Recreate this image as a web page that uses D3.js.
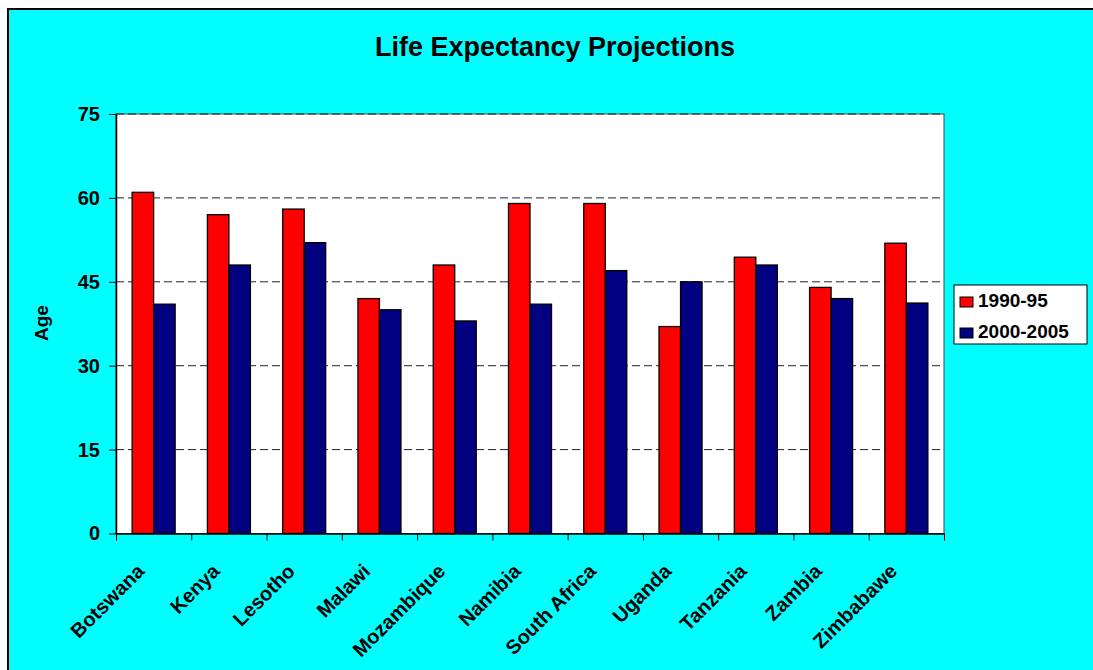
<!DOCTYPE html>
<html>
<head>
<meta charset="utf-8">
<script src="https://cdnjs.cloudflare.com/ajax/libs/d3/7.8.5/d3.min.js"></script>
<style>
    body { margin: 0; background: #ffffff; }
    text { font-family: "Liberation Sans", Arial, sans-serif; font-weight: bold; fill: #000; }
</style>
</head>
<body>
<div id="chart"></div>
<script>
var countries = ["Botswana", "Kenya", "Lesotho", "Malawi", "Mozambique", "Namibia",
    "South Africa", "Uganda", "Tanzania", "Zambia", "Zimbabawe"];
var seriesNames = ["1990-95", "2000-2005"];
var values1990 = [61, 57, 58, 42, 48, 59, 59, 37, 49.4, 44, 51.9];
var values2000 = [41, 48, 52, 40, 38, 41, 47, 45, 48, 42, 41.2];
var yTicks = [0, 15, 30, 45, 60, 75];
var colors = ["#ff0000", "#000080"];

var width = 1093, height = 670;
var plotLeft = 116, plotRight = 944, plotTop = 114, plotBottom = 533.5;

var svg = d3.select("#chart")
    .append("svg")
    .attr("width", width)
    .attr("height", height);

// chart area background
svg.append("rect")
    .attr("x", 8)
    .attr("y", 9)
    .attr("width", width + 20)
    .attr("height", height + 20)
    .style("fill", "#00ffff")
    .style("stroke", "#000")
    .style("stroke-width", 2);

svg.append("text")
    .attr("x", 555)
    .attr("y", 56)
    .attr("text-anchor", "middle")
    .style("font-size", "27px")
    .text("Life Expectancy Projections");

var x = d3.scaleBand().range([plotLeft, plotRight]).domain(countries);
var x1 = d3.scaleBand().domain(seriesNames).range([0, x.bandwidth()]).paddingOuter(0.75);
var y = d3.scaleLinear().domain([0, 75]).range([plotBottom, plotTop]);

// plot area
svg.append("rect")
    .attr("x", plotLeft)
    .attr("y", plotTop)
    .attr("width", plotRight - plotLeft)
    .attr("height", plotBottom - plotTop)
    .style("fill", "#fff")
    .style("stroke", "#444")
    .style("stroke-width", 1);

svg.append("g")
    .selectAll("line")
    .data(yTicks.filter(d => d > 0))
    .enter()
    .append("line")
    .attr("x1", plotLeft)
    .attr("x2", plotRight)
    .attr("y1", d => y(d))
    .attr("y2", d => y(d))
    .style("stroke", "#222")
    .style("stroke-width", 1)
    .style("stroke-dasharray", "8,4");

var data = countries.map((c, i) => ({ country: c, vals: [values1990[i], values2000[i]] }));

var groups = svg.selectAll(".group")
    .data(data)
    .enter()
    .append("g")
    .attr("class", "group")
    .attr("transform", d => "translate(" + x(d.country) + ",0)");

groups.selectAll("rect")
    .data(d => d.vals.map((v, j) => ({ name: seriesNames[j], value: v, idx: j })))
    .enter()
    .append("rect")
    .attr("x", d => x1(d.name))
    .attr("y", d => y(d.value))
    .attr("width", x1.bandwidth())
    .attr("height", d => y(0) - y(d.value))
    .style("fill", d => colors[d.idx])
    .style("stroke", "#000")
    .style("stroke-width", 1.3);

// y axis
var yAxis = d3.axisLeft(y).tickValues(yTicks).tickSize(7).tickSizeOuter(0).tickPadding(9);
var gy = svg.append("g")
    .attr("transform", "translate(" + plotLeft + ",0)")
    .call(yAxis);
gy.select(".domain").style("stroke", "#000").style("stroke-width", 1.5);
gy.selectAll(".tick line").style("stroke", "#000");
gy.selectAll("text").style("font-size", "20px").style("font-family", "'Liberation Sans', Arial, sans-serif").style("font-weight", "bold");

// x axis, ticks at category boundaries
var xb = d3.scaleLinear().domain([0, countries.length]).range([plotLeft, plotRight]);
var xAxis = d3.axisBottom(xb).tickValues(d3.range(countries.length + 1)).tickFormat("").tickSize(7).tickSizeOuter(0);
var gx = svg.append("g")
    .attr("transform", "translate(0," + plotBottom + ")")
    .call(xAxis);
gx.select(".domain").style("stroke", "#000").style("stroke-width", 1.5);
gx.selectAll(".tick line").style("stroke", "#000");

svg.append("g")
    .selectAll("text")
    .data(countries)
    .enter()
    .append("text")
    .attr("text-anchor", "end")
    .attr("transform", d => "translate(" + (x(d) + x.bandwidth() / 2 - 8) + "," + (plotBottom + 39) + ") rotate(-45)")
    .style("font-size", "20px")
    .text(d => d);

svg.append("text")
    .attr("transform", "translate(48,323) rotate(-90)")
    .attr("text-anchor", "middle")
    .style("font-size", "19px")
    .text("Age");

// legend
var legend = svg.append("g").attr("transform", "translate(954,285)");
legend.append("rect")
    .attr("width", 133)
    .attr("height", 59)
    .style("fill", "#fff")
    .style("stroke", "#000")
    .style("stroke-width", 1);

var items = legend.selectAll(".item")
    .data(seriesNames)
    .enter()
    .append("g")
    .attr("class", "item")
    .attr("transform", (d, i) => "translate(0," + (i * 31) + ")");

items.append("rect")
    .attr("x", 6)
    .attr("y", 12)
    .attr("width", 13)
    .attr("height", 10)
    .style("fill", (d, i) => colors[i])
    .style("stroke", "#000");

items.append("text")
    .attr("x", 24)
    .attr("y", 22)
    .style("font-size", "19px")
    .text(d => d);
</script>
</body>
</html>
